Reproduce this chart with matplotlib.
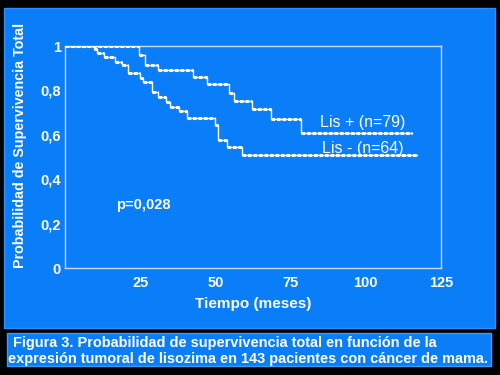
import matplotlib
matplotlib.use("Agg")
import matplotlib.pyplot as plt
from matplotlib.patches import Rectangle

plt.rcParams['font.family'] = ['Liberation Sans', 'DejaVu Sans']

# Kaplan-Meier estimates
times_pos = [0, 24.7, 26.5, 30.9, 42.7, 47.2, 54.4, 56.1, 62.2, 68.5, 78.3]
surv_pos = [1.0, 0.96, 0.914, 0.89, 0.859, 0.829, 0.79, 0.754, 0.715, 0.673, 0.61]
end_pos = 115.2

times_neg = [0, 9.8, 10.8, 12.8, 16.7, 18.9, 21.1, 24.8, 26.0, 29.0, 30.8,
             33.7, 34.8, 37.8, 40.7, 50.0, 51.0, 54.0, 59.0]
surv_neg = [1.0, 0.985, 0.967, 0.949, 0.93, 0.914, 0.877, 0.858, 0.836, 0.795,
            0.772, 0.75, 0.724, 0.705, 0.677, 0.644, 0.577, 0.544, 0.508]
end_neg = 117.0

x_ticks = [25, 50, 75, 100, 125]
y_ticks = [0, 0.2, 0.4, 0.6, 0.8, 1.0]
y_ticklabels = ['0', '0,2', '0,4', '0,6', '0,8', '1']

blue = '#0a7ef8'
frame = '#c6dcf4'

fig = plt.figure(figsize=(5, 3.75), dpi=100, facecolor='black')

# background panels
fig.patches.append(Rectangle((4 / 500, 1 - 328 / 375), 491 / 500, 320 / 375,
                             transform=fig.transFigure, facecolor=blue,
                             edgecolor='#2a90ff', lw=1, zorder=-5))
fig.patches.append(Rectangle((7 / 500, 1 - 366 / 375), 484 / 500, 33 / 375,
                             transform=fig.transFigure, facecolor=blue,
                             edgecolor='#3a9cff', lw=1, zorder=-5))

ax = fig.add_axes([65 / 500, 1 - 268 / 375, 376 / 500, 222 / 375])
ax.set_zorder(2)
ax.set_facecolor(blue)
ax.set_xlim(0, 125)
ax.set_ylim(0, 1)

for times, surv, end in [(times_pos, surv_pos, end_pos), (times_neg, surv_neg, end_neg)]:
    t = times + [end]
    s = surv + [surv[-1]]
    ax.step(t, s, where='post', color='white', lw=1.0, zorder=3)
    ax.hlines(surv, times, times[1:] + [end], colors='white', lw=2.2,
              linestyles=(0, (1.2, 0.6)), zorder=4)

ax.text(99, 0.655, 'Lis + (n=79)', color='white', fontsize=11.5,
        ha='center', va='center')
ax.text(99, 0.54, 'Lis - (n=64)', color='white', fontsize=11.5,
        ha='center', va='center')
ax.text(17, 0.285, 'p=0,028', color='white', fontsize=10.5,
        fontweight='bold', ha='left', va='center')

ax.set_xticks(x_ticks)
ax.set_yticks(y_ticks)
ax.set_yticklabels(y_ticklabels)
ax.tick_params(length=0, colors='white', labelsize=10.5, pad=3)
ax.tick_params(axis='x', pad=6)
for lab in ax.get_xticklabels() + ax.get_yticklabels():
    lab.set_fontweight('bold')
for sp in ax.spines.values():
    sp.set_color(frame)
    sp.set_linewidth(1.0)

ax.set_xlabel('Tiempo (meses)', color='white', fontsize=11,
              fontweight='bold', labelpad=5)
ax.set_ylabel('Probabilidad de Supervivencia Total', color='white',
              fontsize=10.3, fontweight='bold')
ax.yaxis.set_label_coords(-38 / 376, 0.55)

fig.text(13 / 500, 1 - 343 / 375,
         'Figura 3. Probabilidad de supervivencia total en función de la',
         color='white', fontsize=10.45, fontweight='bold', ha='left', va='center')
fig.text(8 / 500, 1 - 359 / 375,
         'expresión tumoral de lisozima en 143 pacientes con cáncer de mama.',
         color='white', fontsize=10.45, fontweight='bold', ha='left', va='center')

fig.savefig('out.png', dpi=100, facecolor='black')
